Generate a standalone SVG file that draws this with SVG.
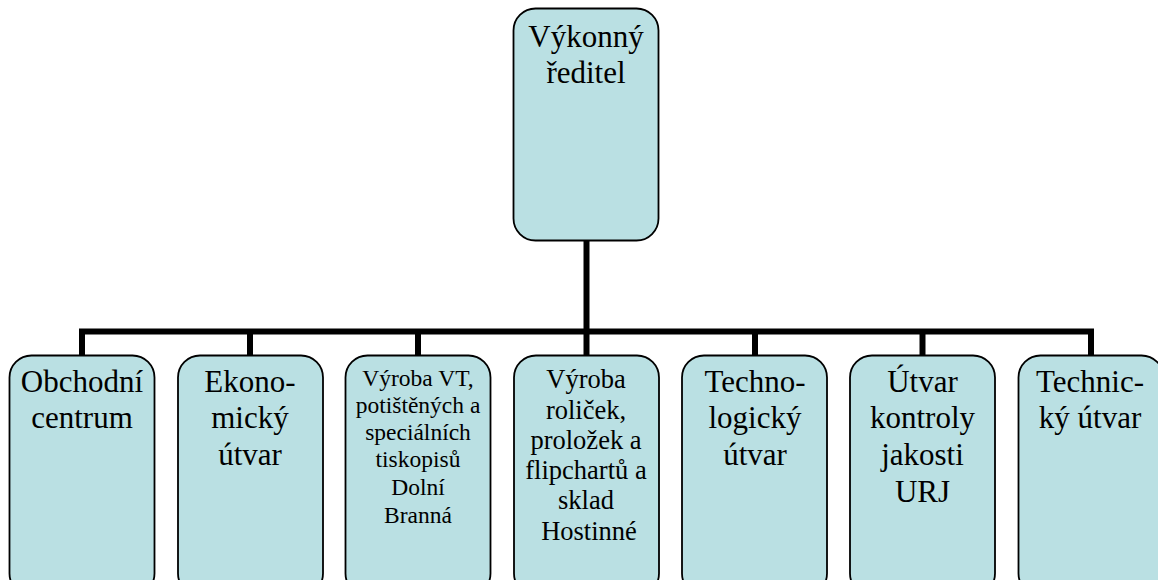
<svg xmlns="http://www.w3.org/2000/svg" width="1158" height="580" viewBox="0 0 1158 580">
  <style>
    .box { fill: #BAE0E3; stroke: #000; stroke-width: 1.8; }
    .lbl { font-family: "Liberation Serif", "Times New Roman", serif; fill: #000; text-anchor: middle; }
    .big { font-size: 31px; }
    .sm { font-size: 23.5px; }
    .md { font-size: 26.5px; }
    .wire { fill: none; stroke: #000; stroke-width: 6; stroke-linecap: butt; stroke-linejoin: miter; }
  </style>
  <rect width="1158" height="580" fill="#fff"/>

  <!-- org chart connectors -->
  <g id="connectors">
    <path class="wire" d="M586.5 240 V331.5"/>
    <path class="wire" d="M82 355 V331.5 H1091 V355"/>
    <path class="wire" d="M250 331.5 V355"/>
    <path class="wire" d="M418 331.5 V355"/>
    <path class="wire" d="M586.5 331.5 V355"/>
    <path class="wire" d="M755 331.5 V355"/>
    <path class="wire" d="M922.5 331.5 V355"/>
  </g>

  <g id="n-reditel">
    <rect class="box" x="513.5" y="8.5" width="145" height="232" rx="22"/>
    <text class="lbl big" x="586" y="47">Výkonný</text>
    <text class="lbl big" x="586" y="83">ředitel</text>
  </g>

  <g id="n-obchod">
    <rect class="box" x="9.5" y="355.5" width="145" height="240" rx="22"/>
    <text class="lbl big" x="82" y="392">Obchodní</text>
    <text class="lbl big" x="82" y="428">centrum</text>
  </g>

  <g id="n-ekonom">
    <rect class="box" x="178" y="355.5" width="145" height="240" rx="22"/>
    <text class="lbl big" x="250" y="392">Ekono-</text>
    <text class="lbl big" x="250" y="428">mický</text>
    <text class="lbl big" x="250" y="465">útvar</text>
  </g>

  <g id="n-vyroba-vt">
    <rect class="box" x="345.5" y="355.5" width="145" height="240" rx="22"/>
    <text class="lbl sm" x="418" y="386">Výroba VT,</text>
    <text class="lbl sm" x="418" y="413">potištěných a</text>
    <text class="lbl sm" x="418" y="440">speciálních</text>
    <text class="lbl sm" x="418" y="467">tiskopisů</text>
    <text class="lbl sm" x="418" y="495">Dolní</text>
    <text class="lbl sm" x="418" y="523">Branná</text>
  </g>

  <g id="n-vyroba-rolicek">
    <rect class="box" x="514" y="355.5" width="145" height="240" rx="22"/>
    <text class="lbl md" x="586" y="388">Výroba</text>
    <text class="lbl md" x="586" y="419">roliček,</text>
    <text class="lbl md" x="586" y="449">proložek a</text>
    <text class="lbl md" x="586" y="479">flipchartů a</text>
    <text class="lbl md" x="586" y="509">sklad</text>
    <text class="lbl md" x="589" y="540">Hostinné</text>
  </g>

  <g id="n-techno">
    <rect class="box" x="682" y="355.5" width="145" height="240" rx="22"/>
    <text class="lbl big" x="755" y="392">Techno-</text>
    <text class="lbl big" x="755" y="428">logický</text>
    <text class="lbl big" x="755" y="465">útvar</text>
  </g>

  <g id="n-kontrola">
    <rect class="box" x="850" y="355.5" width="145" height="240" rx="22"/>
    <text class="lbl big" x="922.5" y="392">Útvar</text>
    <text class="lbl big" x="922.5" y="428">kontroly</text>
    <text class="lbl big" x="922.5" y="465">jakosti</text>
    <text class="lbl big" x="922.5" y="502">URJ</text>
  </g>

  <g id="n-technicky">
    <rect class="box" x="1018.5" y="355.5" width="145" height="240" rx="22"/>
    <text class="lbl big" x="1090" y="392">Technic-</text>
    <text class="lbl big" x="1090" y="428">ký útvar</text>
  </g>
</svg>
